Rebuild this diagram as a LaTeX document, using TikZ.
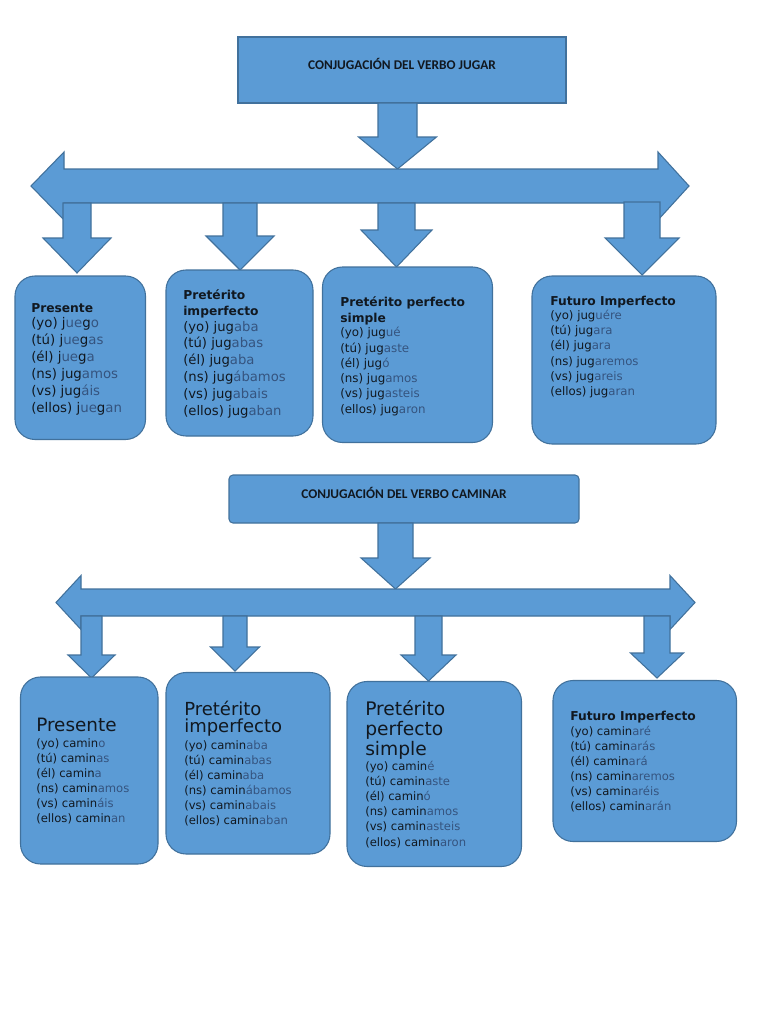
\documentclass[tikz,border=0pt]{standalone}
\usepackage{fontspec}
\usepackage{xcolor}
\usepackage{tikz}
\usetikzlibrary{fit}
\setmainfont{DejaVu Sans}
\newfontfamily\titlefont{Carlito}
\definecolor{boxblue}{HTML}{5B9BD5}
\definecolor{boxedge}{HTML}{41719C}
\definecolor{ink}{HTML}{111820}
\definecolor{ending}{HTML}{35547F}
\newcommand{\desin}[1]{\textcolor{ending}{#1}}
\tikzset{
  blk/.style={fill=boxblue, draw=boxedge, line width=0.8pt, line join=miter},
  tbox/.style={blk, rounded corners=15pt, inner sep=0pt},
  ttl/.style={blk, inner sep=0pt, text=ink, font=\titlefont\bfseries\fontsize{10}{12}\selectfont},
  hd/.style={anchor=base west, inner sep=0pt, text=ink, font=\bfseries\fontsize{9.2}{11}\selectfont},
  big/.style={anchor=base west, inner sep=0pt, text=ink, font=\fontsize{#1}{#1}\selectfont},
  body/.style={anchor=base west, inner sep=0pt, text=ink, font=\fontsize{#1}{#1}\selectfont}
}

\begin{document}
\begin{tikzpicture}[x=0.75pt, y=-0.75pt]
  \useasboundingbox (0,0) rectangle (768,1024);
  \fill[white] (0,0) rectangle (768,1024);

  % verbo jugar
  \node[ttl, fit={(238,37) (566,103)}] (tjugar) {CONJUGACIÓN DEL VERBO JUGAR};
  \draw[blk] (397.5,169) -- (358.5,137) -- (378,137) -- (378,103) -- (417,103) -- (417,137) -- (436.5,137) -- cycle;
  \draw[blk] (31,186) -- (64,152) -- (64,169) -- (658,169) -- (658,152) -- (689,186)
    -- (658,220) -- (658,203) -- (64,203) -- (64,220) -- cycle;
  \foreach \c/\w/\h/\t/\hy/\ty in {77/14/34/203/238/273, 240/17/34/203/236/270,
      396.5/18.5/35.5/203/230/267, 642/18/37/202/238/275}
    \draw[blk] (\c-\w,\t) -- (\c-\w,\hy) -- (\c-\h,\hy) -- (\c,\ty) -- (\c+\h,\hy)
      -- (\c+\w,\hy) -- (\c+\w,\t) -- cycle;

  \node[tbox, fit={(15,276) (145.5,439.5)}] (jpres) {};
  \node[tbox, fit={(166,270) (313,436)}] (jimp) {};
  \node[tbox, fit={(322.5,267) (492.5,442.5)}] (jperf) {};
  \node[tbox, fit={(532,276) (716,444)}] (jfut) {};

  \node[hd] (hjpres) at (31,312) {Presente};
  \foreach \ln [count=\i from 0] in {{(yo) j\desin{ue}g\desin{o}}, {(tú) j\desin{ue}g\desin{as}},
      {(él) j\desin{ue}g\desin{a}}, {(ns) jug\desin{amos}}, {(vs) jug\desin{áis}},
      {(ellos) j\desin{ue}g\desin{an}}}
    \node[body=10] (jpres-\i) at (31,327+17*\i) {\ln};

  \node[hd] (hjimp) at (183,299.3) {Pretérito};
  \node[hd] (hjimp2) at (183,315.7) {imperfecto};
  \foreach \ln [count=\i from 0] in {{(yo) jug\desin{aba}}, {(tú) jug\desin{abas}},
      {(él) jug\desin{aba}}, {(ns) jug\desin{ábamos}}, {(vs) jug\desin{abais}},
      {(ellos) jug\desin{aban}}}
    \node[body=9.9] (jimp-\i) at (183,331+16.9*\i) {\ln};

  \node[hd] (hjperf) at (340,306.7) {Pretérito perfecto};
  \node[hd] (hjperf2) at (340,322.3) {simple};
  \foreach \ln [count=\i from 0] in {{(yo) jug\desin{ué}}, {(tú) jug\desin{aste}},
      {(él) jug\desin{ó}}, {(ns) jug\desin{amos}}, {(vs) jug\desin{asteis}},
      {(ellos) jug\desin{aron}}}
    \node[body=8.9] (jperf-\i) at (340,336.7+15.3*\i) {\ln};

  \node[hd] (hjfut) at (550,305) {Futuro Imperfecto};
  \foreach \ln [count=\i from 0] in {{(yo) jug\desin{uére}}, {(tú) jug\desin{ara}},
      {(él) jug\desin{ara}}, {(ns) jug\desin{aremos}}, {(vs) jug\desin{areis}},
      {(ellos) jug\desin{aran}}}
    \node[body=8.8] (jfut-\i) at (550,319.3+15.3*\i) {\ln};

  % verbo caminar
  \node[ttl, rounded corners=3pt, fit={(229,475) (579,523)}] (tcaminar) {CONJUGACIÓN DEL VERBO CAMINAR};
  \draw[blk] (395.5,589) -- (361,558) -- (378,558) -- (378,523) -- (413,523) -- (413,558) -- (430,558) -- cycle;
  \draw[blk] (56,602.5) -- (81,575.5) -- (81,589) -- (670,589) -- (670,575.5) -- (695,602.5)
    -- (670,629.5) -- (670,616) -- (81,616) -- (81,629.5) -- cycle;
  \foreach \c/\w/\h/\t/\hy/\ty in {91.5/10.5/23.5/616/655/678, 235/12/24.5/616/647/671,
      428.5/13.5/27.5/616/655/681, 657/13/26.5/616/653/678}
    \draw[blk] (\c-\w,\t) -- (\c-\w,\hy) -- (\c-\h,\hy) -- (\c,\ty) -- (\c+\h,\hy)
      -- (\c+\w,\hy) -- (\c+\w,\t) -- cycle;

  \node[tbox, fit={(20.5,677) (158,864)}] (cpres) {};
  \node[tbox, fit={(166,672.5) (330,854)}] (cimp) {};
  \node[tbox, fit={(347,681.5) (521.5,866.5)}] (cperf) {};
  \node[tbox, fit={(553,680.5) (736.5,841.5)}] (cfut) {};

  \node[big=13.8] (hcpres) at (36,731.7) {Presente};
  \foreach \ln [count=\i from 0] in {{(yo) camin\desin{o}}, {(tú) camin\desin{as}},
      {(él) camin\desin{a}}, {(ns) camin\desin{amos}}, {(vs) camin\desin{áis}},
      {(ellos) camin\desin{an}}}
    \node[body=8.7] (cpres-\i) at (36,747.3+15*\i) {\ln};

  \node[big=13.5] (hcimp) at (184,715) {Pretérito};
  \node[big=13.5] (hcimp2) at (184,732.7) {imperfecto};
  \foreach \ln [count=\i from 0] in {{(yo) camin\desin{aba}}, {(tú) camin\desin{abas}},
      {(él) camin\desin{aba}}, {(ns) camin\desin{ábamos}}, {(vs) camin\desin{abais}},
      {(ellos) camin\desin{aban}}}
    \node[body=8.7] (cimp-\i) at (184,749.3+15.1*\i) {\ln};

  \node[big=14] (hcperf) at (365,715) {Pretérito};
  \node[big=14] (hcperf2) at (365,735) {perfecto};
  \node[big=14] (hcperf3) at (365,755) {simple};
  \foreach \ln [count=\i from 0] in {{(yo) camin\desin{é}}, {(tú) camin\desin{aste}},
      {(él) camin\desin{ó}}, {(ns) camin\desin{amos}}, {(vs) camin\desin{asteis}},
      {(ellos) camin\desin{aron}}}
    \node[body=8.7] (cperf-\i) at (365,770+15.2*\i) {\ln};

  \node[hd] (hcfut) at (570,720) {Futuro Imperfecto};
  \foreach \ln [count=\i from 0] in {{(yo) camin\desin{aré}}, {(tú) camin\desin{arás}},
      {(él) camin\desin{ará}}, {(ns) camin\desin{aremos}}, {(vs) camin\desin{aréis}},
      {(ellos) camin\desin{arán}}}
    \node[body=8.7] (cfut-\i) at (570,735+15*\i) {\ln};
\end{tikzpicture}
\end{document}
